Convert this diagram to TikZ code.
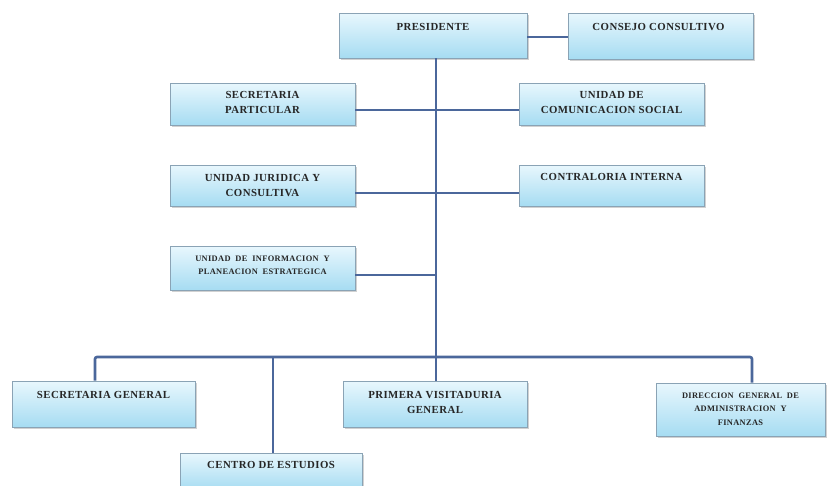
\documentclass[tikz,border=0pt]{standalone}
\usepackage{fontspec}
\setmainfont{Liberation Serif}
\newfontfamily\lblfont{Liberation Serif}[LetterSpace=4]
\usetikzlibrary{shadows,calc}
\definecolor{boxtop}{HTML}{E8F7FD}
\definecolor{boxbot}{HTML}{A6DCF2}
\definecolor{boxline}{HTML}{8AA3B5}
\definecolor{wirecol}{HTML}{4B679B}
\definecolor{txtcol}{HTML}{262626}
\begin{document}
\begin{tikzpicture}[x=1pt,y=-1pt,
  orgbox/.style={draw=boxline, line width=0.7pt, top color=boxtop, bottom color=boxbot,
    inner sep=0, drop shadow={shadow xshift=1.5pt, shadow yshift=-2pt, opacity=0.45, fill=gray!80}},
  wire/.style={draw=wirecol, line width=2.6pt},
  lbl/.style={font=\lblfont\fontsize{10.8}{15}\selectfont\bfseries, text=txtcol, align=center, anchor=north, inner sep=0},
  slbl/.style={font=\lblfont\fontsize{8.4}{13.5}\selectfont\bfseries, text=txtcol, align=center, anchor=north, inner sep=0}]
\useasboundingbox (0,0) rectangle (829,485);
\fill[white] (0,0) rectangle (829,485);
\clip (0,0) rectangle (829,485);

% boxes
\node[orgbox, minimum width=188, minimum height=45] (pres) at (433,35.5) {};
\node[orgbox, minimum width=185, minimum height=46] (cons) at (660.5,36) {};
\node[orgbox, minimum width=185, minimum height=42] (sp) at (262.5,104) {};
\node[orgbox, minimum width=185, minimum height=42] (ucs) at (611.5,104) {};
\node[orgbox, minimum width=185, minimum height=41] (ujc) at (262.5,185.5) {};
\node[orgbox, minimum width=185, minimum height=41] (ci) at (611.5,185.5) {};
\node[orgbox, minimum width=185, minimum height=44] (uip) at (262.5,268) {};
\node[orgbox, minimum width=183, minimum height=46] (sg) at (103.5,404) {};
\node[orgbox, minimum width=184, minimum height=46] (pvg) at (435,404) {};
\node[orgbox, minimum width=169, minimum height=53] (dga) at (740.5,409.5) {};
\node[orgbox, minimum width=182, minimum height=37] (ce) at (271,471.5) {};

% labels
\node[lbl] (tpres) at ($(pres.north)+(0,10.5)$) {PRESIDENTE};
\node[lbl] (tcons) at ($(cons.north)+(-2,10.5)$) {CONSEJO CONSULTIVO};
\node[lbl] (tsp) at ($(sp.north)+(0,8.5)$) {SECRETARIA\\PARTICULAR};
\node[lbl] (tucs) at ($(ucs.north)+(0,8.5)$) {UNIDAD DE\\COMUNICACION SOCIAL};
\node[lbl] (tujc) at ($(ujc.north)+(0,9.5)$) {UNIDAD JURIDICA Y\\CONSULTIVA};
\node[lbl] (tci) at ($(ci.north)+(0,8.5)$) {CONTRALORIA INTERNA};
\node[slbl] (tuip) at ($(uip.north)+(0,10)$) {UNIDAD\ \ DE\ \ INFORMACION\ \ Y\\PLANEACION\ \ ESTRATEGICA};
\node[lbl] (tsg) at ($(sg.north)+(0,10.5)$) {SECRETARIA GENERAL};
\node[lbl] (tpvg) at ($(pvg.north)+(0,10.5)$) {PRIMERA VISITADURIA\\GENERAL};
\node[slbl] (tdga) at ($(dga.north)+(0,10)$) {DIRECCION\ \ GENERAL\ \ DE\\ADMINISTRACION\ \ Y\\FINANZAS};
\node[lbl] (tce) at ($(ce.north)+(0,8.5)$) {CENTRO DE ESTUDIOS};

% connector coordinates
\coordinate (bus) at (436,357);
\coordinate (busL) at (95,357);
\coordinate (busR) at (752,357);
\coordinate (ceX) at (273,357);
\coordinate (r0) at (0,37);
\coordinate (r1) at (0,110);
\coordinate (r2) at (0,193);
\coordinate (r3) at (0,275);

% connectors
\draw[wire] (pres.east |- r0) -- (cons.west |- r0);
\draw[wire] (pres.south -| bus) -- (pvg.north -| bus);
\draw[wire] (sp.east |- r1) -- (ucs.west |- r1);
\draw[wire] (ujc.east |- r2) -- (ci.west |- r2);
\draw[wire] (uip.east |- r3) -- (bus |- r3);
\draw[wire, rounded corners=2pt] (sg.north -| busL) -- (busL) -- (busR) -- (dga.north -| busR);
\draw[wire] (ceX) -- (ce.north -| ceX);
\end{tikzpicture}
\end{document}
